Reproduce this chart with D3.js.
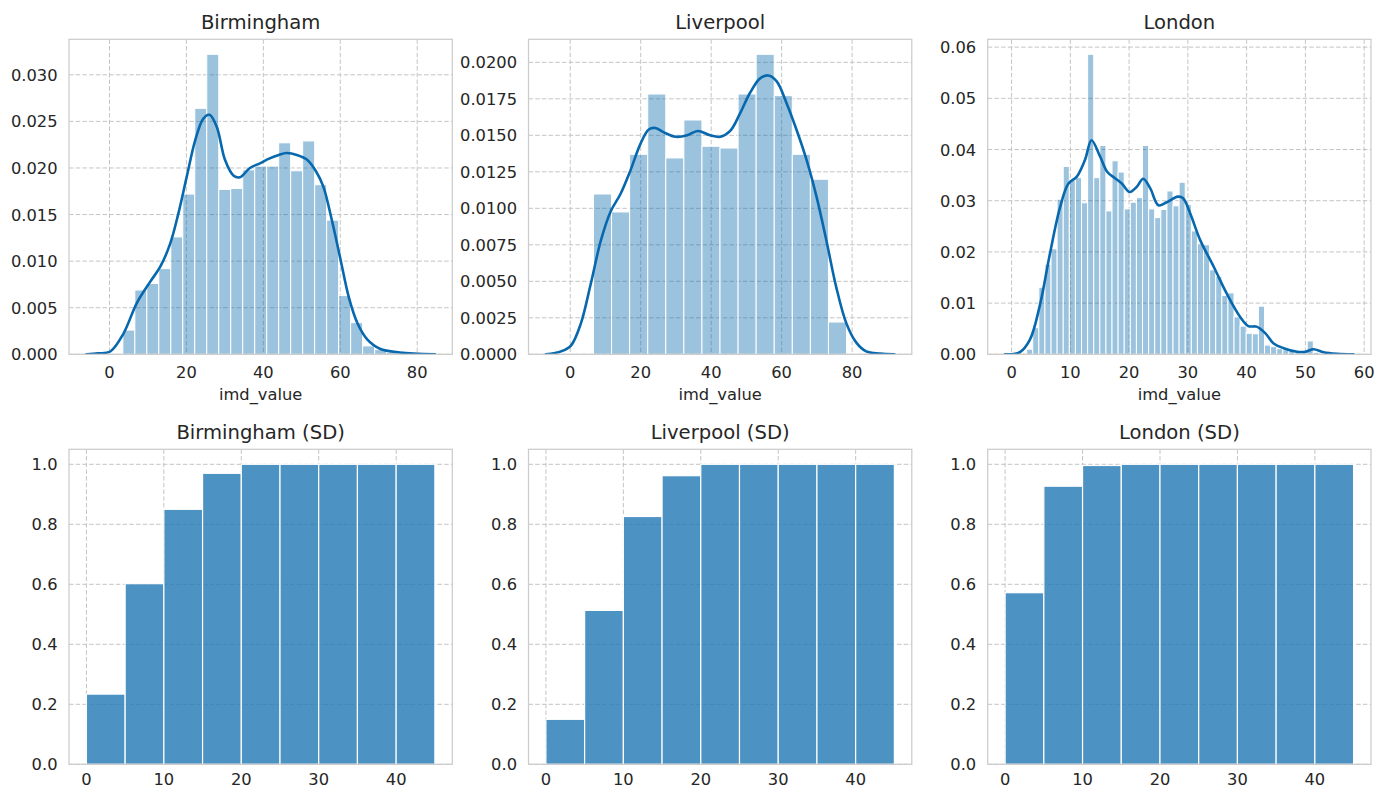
<!DOCTYPE html>
<html>
<head>
<meta charset="utf-8">
<script src="https://cdn.jsdelivr.net/npm/d3@7"></script>
<style>
  html, body { margin: 0; padding: 0; background: #ffffff; }
  svg { display: block; }
  text { font-family: "DejaVu Sans", sans-serif; fill: #262626; }
</style>
</head>
<body>
<svg id="chart" width="1390" height="789"></svg>
<script>
// ---------------- DATA ----------------
// Top row: density histograms of imd_value (bin start, bin width, bar heights) + KDE curve points
const birminghamBinStart = 3.47;
const birminghamBinWidth = 3.117;
const birminghamBins = [0.0026, 0.0069, 0.0076, 0.0092, 0.0126, 0.0172, 0.0264, 0.0322, 0.0177, 0.0178,
  0.0198, 0.0202, 0.0202, 0.0227, 0.0197, 0.0229, 0.0182, 0.0144, 0.0063, 0.0034, 0.0009, 0.0005, 0.0002];
const birminghamKde = [[-6,0],[-3,0.0001],[0.2,0.0003],[3.6,0.0022],[7.1,0.0055],[10.6,0.0078],[13.2,0.0094],
  [15.8,0.0119],[17.9,0.0151],[20.1,0.0191],[22.3,0.023],[24.4,0.0253],[26.0,0.0257],[27.9,0.0244],[30.0,0.0209],
  [32.2,0.0192],[33.9,0.019],[36.5,0.02],[39.1,0.0205],[41.5,0.021],[44,0.0214],[46.1,0.0216],[48.7,0.0214],
  [51.3,0.0209],[53.6,0.0197],[55.6,0.018],[57.7,0.0146],[59.9,0.0105],[62.3,0.006],[64.5,0.0033],[67,0.0016],
  [70.3,0.0006],[75.5,0.0002],[84.6,0]];

const liverpoolBinStart = 6.6;
const liverpoolBinWidth = 5.13;
const liverpoolBins = [0.01098, 0.00975, 0.0137, 0.01783, 0.01345, 0.01605, 0.01425, 0.01413, 0.01783, 0.02055,
  0.01772, 0.0137, 0.01199, 0.00221];
const liverpoolKde = [[-6.9,0],[-2.6,0.0002],[0.2,0.0006],[3.0,0.0021],[5.8,0.0048],[8.7,0.0078],[11.5,0.0098],
  [14.3,0.011],[17.1,0.0126],[19.9,0.0144],[22.3,0.0154],[24.2,0.0155],[26.6,0.0152],[29.9,0.0149],[33.2,0.015],
  [36.2,0.0153],[39.7,0.015],[42.6,0.0149],[45.4,0.0153],[48.2,0.0165],[51.0,0.0179],[53.9,0.0189],[56.2,0.0191],
  [58.6,0.0187],[61.4,0.0172],[64.2,0.0154],[67.1,0.0133],[69.9,0.0108],[72.7,0.0078],[75.5,0.0046],[78.4,0.0021],
  [81.2,0.0008],[84,0.0002],[88,0.00005],[92,0]];

const londonBinStart = 2.56;
const londonBinWidth = 1.038;
const londonBins = [0.0010, 0.0052, 0.0131, 0.0176, 0.0206, 0.0303, 0.0367, 0.0340, 0.0345, 0.0296,
  0.0586, 0.0345, 0.0408, 0.0280, 0.0378, 0.0356, 0.0284, 0.0297, 0.0306, 0.0408,
  0.0284, 0.0267, 0.0283, 0.0319, 0.0290, 0.0336, 0.0293, 0.0241, 0.0216, 0.0214,
  0.0165, 0.0152, 0.0115, 0.0120, 0.0073, 0.0055, 0.0041, 0.0040, 0.0094, 0.0018,
  0.0015, 0.0011, 0.0009, 0.0007, 0.0005, 0.0005, 0.0026, 0.0004, 0.0002, 0.0001];
const londonKde = [[-1.1,0],[1.4,0.0004],[3.1,0.0028],[4.8,0.0095],[6.5,0.0195],[8.2,0.0285],[9.65,0.0333],
  [11.1,0.0347],[12.5,0.038],[13.6,0.0418],[15.0,0.0388],[16.3,0.0356],[17.6,0.0344],[18.8,0.0333],[20.1,0.0317],
  [21.3,0.0327],[22.4,0.0343],[23.6,0.0324],[25.0,0.0291],[26.4,0.0297],[28.3,0.0308],[29.2,0.0305],[30.4,0.0275],
  [32.1,0.0223],[34.4,0.0171],[36.6,0.0119],[38.9,0.0073],[40.3,0.0055],[41.7,0.0054],[43.2,0.0041],[44.6,0.0021],
  [46.3,0.0012],[48.6,0.0005],[50,0.0005],[51.4,0.001],[53.1,0.0004],[55.4,0.0001],[58.2,0]];

// Bottom row: cumulative share per SD bin (bins of width 5 from 0 to 45)
const sdBinEdges = [0, 5, 10, 15, 20, 25, 30, 35, 40, 45];
const birminghamSD = [0.234, 0.602, 0.850, 0.970, 1.0, 1.0, 1.0, 1.0, 1.0];
const liverpoolSD  = [0.150, 0.513, 0.826, 0.962, 1.0, 1.0, 1.0, 1.0, 1.0];
const londonSD     = [0.572, 0.927, 0.996, 1.0, 1.0, 1.0, 1.0, 1.0, 1.0];

// Titles and tick labels
const topTitles = ["Birmingham", "Liverpool", "London"];
const bottomTitles = ["Birmingham (SD)", "Liverpool (SD)", "London (SD)"];
const xLabelTop = "imd_value";
const birminghamYTicks = [0, 0.005, 0.010, 0.015, 0.020, 0.025, 0.030];
const liverpoolYTicks = [0, 0.0025, 0.005, 0.0075, 0.010, 0.0125, 0.015, 0.0175, 0.020];
const londonYTicks = [0, 0.01, 0.02, 0.03, 0.04, 0.05, 0.06];
const birminghamXTicks = [0, 20, 40, 60, 80];
const liverpoolXTicks = [0, 20, 40, 60, 80];
const londonXTicks = [0, 10, 20, 30, 40, 50, 60];
const sdYTicks = [0, 0.2, 0.4, 0.6, 0.8, 1.0];
const sdXTicks = [0, 10, 20, 30, 40];

// ---------------- LAYOUT / STYLE ----------------
const colLeft = [69, 528.5, 987.7];
const panelW = 383.3;
const rowTop = [39.3, 449.3];
const panelH = 315;
const tickFont = 16.3;
const titleFont = 19.6;
const gridColor = "#c4c4c4";
const spineColor = "#cccccc";
const kdeColor = "#0868ad";
const sdColor = "#1f77b4";

const svg = d3.select("#chart");
svg.append("rect").attr("width", 1390).attr("height", 789).attr("fill", "#ffffff");

let clipId = 0;
function panel(opts) {
  const { left, top, xDomain, yDomain, xTicks, yTicks, yFmt, xFmt, title, xlabel, xTickOffset } = opts;
  const x = d3.scaleLinear().domain(xDomain).range([left, left + panelW]);
  const y = d3.scaleLinear().domain(yDomain).range([top + panelH, top]);
  const g = svg.append("g");
  const id = "clip" + (clipId++);
  g.append("clipPath").attr("id", id).append("rect")
    .attr("x", left).attr("y", top).attr("width", panelW).attr("height", panelH);

  // grid
  const grid = g.append("g").attr("stroke", gridColor).attr("stroke-width", 1).attr("stroke-dasharray", "4.5,2.2");
  grid.selectAll("line.v").data(xTicks).join("line")
    .attr("x1", d => x(d)).attr("x2", d => x(d)).attr("y1", top).attr("y2", top + panelH);
  grid.selectAll("line.h").data(yTicks).join("line")
    .attr("x1", left).attr("x2", left + panelW).attr("y1", d => y(d)).attr("y2", d => y(d));

  const plot = g.append("g").attr("clip-path", `url(#${id})`);

  // spines
  g.append("rect").attr("x", left).attr("y", top).attr("width", panelW).attr("height", panelH)
    .attr("fill", "none").attr("stroke", spineColor).attr("stroke-width", 1.25);

  // tick labels
  g.append("g").selectAll("text").data(xTicks).join("text")
    .attr("x", d => x(d)).attr("y", top + panelH + xTickOffset)
    .attr("text-anchor", "middle").attr("font-size", tickFont)
    .text(d => xFmt(d));
  g.append("g").selectAll("text").data(yTicks).join("text")
    .attr("x", left - 11.5).attr("y", d => y(d) + 6)
    .attr("text-anchor", "end").attr("font-size", tickFont)
    .text(d => yFmt(d));

  g.append("text").attr("x", left + panelW / 2).attr("y", top - 10)
    .attr("text-anchor", "middle").attr("font-size", titleFont).text(title);
  if (xlabel) {
    g.append("text").attr("x", left + panelW / 2).attr("y", top + panelH + 46)
      .attr("text-anchor", "middle").attr("font-size", tickFont).text(xlabel);
  }
  return { x, y, plot };
}

function topPanel(col, title, binStart, binWidth, bins, kde, xTicks, yTicks, yFmt) {
  const kx = d3.extent(kde, d => d[0]);
  const pad = (kx[1] - kx[0]) * 0.05;
  const ymax = d3.max(bins) * 1.05;
  const { x, y, plot } = panel({
    left: colLeft[col], top: rowTop[0],
    xDomain: [kx[0] - pad, kx[1] + pad], yDomain: [0, ymax],
    xTicks, yTicks, yFmt, xFmt: d3.format("d"), title, xlabel: xLabelTop, xTickOffset: 24
  });
  plot.append("g").selectAll("rect").data(bins).join("rect")
    .attr("x", (d, i) => x(binStart + i * binWidth))
    .attr("width", (d, i) => x(binStart + (i + 1) * binWidth) - x(binStart + i * binWidth))
    .attr("y", d => y(d))
    .attr("height", d => y(0) - y(d))
    .attr("fill", kdeColor).attr("fill-opacity", 0.4)
    .attr("stroke", "#ffffff").attr("stroke-width", 1);
  const line = d3.line().x(d => x(d[0])).y(d => y(d[1])).curve(d3.curveCatmullRom.alpha(0.5));
  plot.append("path").datum(kde).attr("d", line)
    .attr("fill", "none").attr("stroke", kdeColor).attr("stroke-width", 2.6)
    .attr("stroke-linejoin", "round").attr("stroke-linecap", "round");
}

function bottomPanel(col, title, values) {
  const { x, y, plot } = panel({
    left: colLeft[col], top: rowTop[1],
    xDomain: [-2.25, 47.25], yDomain: [0, 1.05],
    xTicks: sdXTicks, yTicks: sdYTicks, yFmt: d3.format(".1f"), xFmt: d3.format("d"),
    title, xlabel: null, xTickOffset: 21
  });
  plot.append("g").selectAll("rect").data(values).join("rect")
    .attr("x", (d, i) => x(sdBinEdges[i]))
    .attr("width", (d, i) => x(sdBinEdges[i + 1]) - x(sdBinEdges[i]))
    .attr("y", d => y(d))
    .attr("height", d => y(0) - y(d))
    .attr("fill", sdColor).attr("fill-opacity", 0.8)
    .attr("stroke", "#ffffff").attr("stroke-width", 1.2);
}

topPanel(0, topTitles[0], birminghamBinStart, birminghamBinWidth, birminghamBins, birminghamKde,
  birminghamXTicks, birminghamYTicks, d3.format(".3f"));
topPanel(1, topTitles[1], liverpoolBinStart, liverpoolBinWidth, liverpoolBins, liverpoolKde,
  liverpoolXTicks, liverpoolYTicks, d3.format(".4f"));
topPanel(2, topTitles[2], londonBinStart, londonBinWidth, londonBins, londonKde,
  londonXTicks, londonYTicks, d3.format(".2f"));

bottomPanel(0, bottomTitles[0], birminghamSD);
bottomPanel(1, bottomTitles[1], liverpoolSD);
bottomPanel(2, bottomTitles[2], londonSD);
</script>
</body>
</html>
